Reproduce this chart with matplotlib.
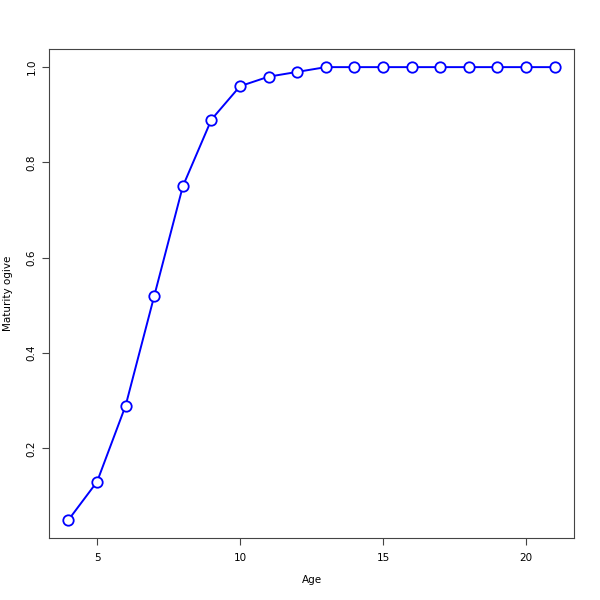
import matplotlib
matplotlib.use("Agg")
import matplotlib.pyplot as plt

age = [4, 5, 6, 7, 8, 9, 10, 11, 12, 13, 14, 15, 16, 17, 18, 19, 20, 21]
maturity = [0.05, 0.13, 0.29, 0.52, 0.75, 0.89, 0.96, 0.98, 0.99,
            1.0, 1.0, 1.0, 1.0, 1.0, 1.0, 1.0, 1.0, 1.0]
xticks = [5, 10, 15, 20]
yticks = [0.2, 0.4, 0.6, 0.8, 1.0]

fig = plt.figure(figsize=(6, 6), dpi=100)
ax = fig.add_axes([0.0817, 0.1033, 0.875, 0.815])

ax.plot(age, maturity, color="blue", lw=1.4, marker="o", markersize=7.5,
        markerfacecolor="white", markeredgecolor="blue", markeredgewidth=1.3)

# R style 4% padding
xr = max(age) - min(age)
yr = max(maturity) - min(maturity)
ax.set_xlim(min(age) - 0.04 * xr, max(age) + 0.04 * xr)
ax.set_ylim(min(maturity) - 0.04 * yr, max(maturity) + 0.04 * yr)

ax.set_xticks(xticks)
ax.set_xticklabels([str(t) for t in xticks])
ax.set_yticks(yticks)
ax.set_yticklabels([f"{t:.1f}" for t in yticks], rotation=90, va="center")
ax.tick_params(axis="both", labelsize=7.5, length=5, width=0.8, color="#444444")
ax.tick_params(axis="x", pad=5.5)
ax.tick_params(axis="y", pad=4)

for s in ax.spines.values():
    s.set_color("#444444")
    s.set_linewidth(0.8)

ax.set_xlabel("Age", fontsize=7.5)
ax.set_ylabel("Maturity ogive", fontsize=7.5)
ax.xaxis.set_label_coords(0.5, -0.086)
ax.yaxis.set_label_coords(-0.078, 0.5)
ax.xaxis.label.set_va("center")
ax.yaxis.label.set_va("center")

fig.savefig("out.png", dpi=100)
